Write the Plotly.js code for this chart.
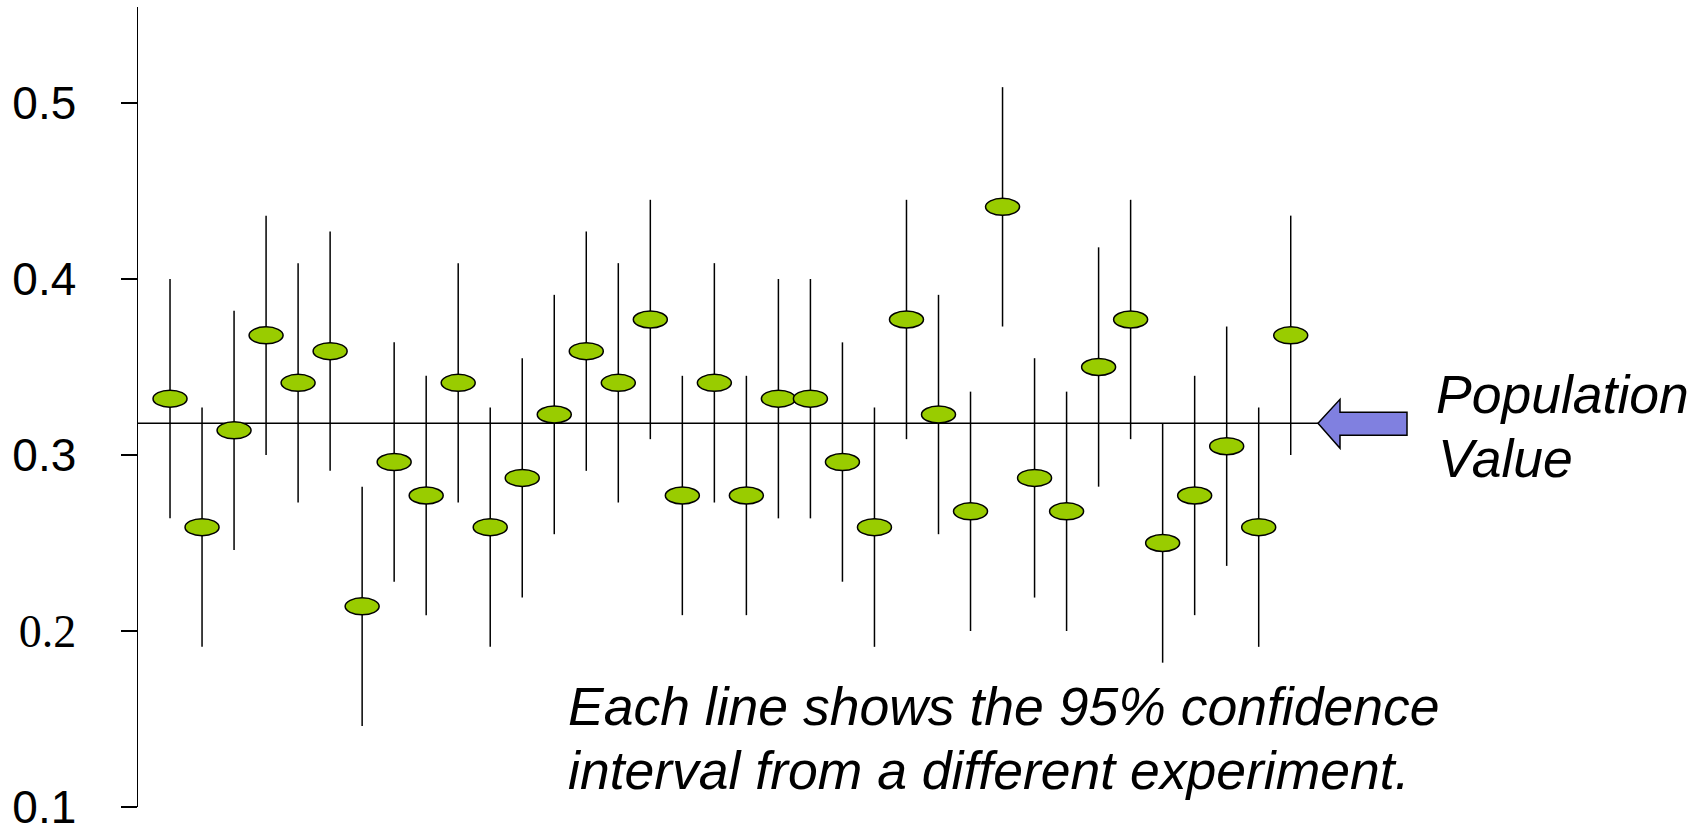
<!DOCTYPE html>
<html>
<head>
<meta charset="utf-8">
<script src="https://cdn.plot.ly/plotly-3.0.1.min.js"></script>
<style>
  html, body { margin: 0; padding: 0; background: #fff; }
  #chart { width: 1704px; height: 837px; }
</style>
</head>
<body>
<div id="chart"></div>
<script>
// ---- Data ----
const experiments = [1,2,3,4,5,6,7,8,9,10,11,12,13,14,15,16,17,18,19,20,21,22,23,24,25,26,27,28,29,30,31,32,33,34,35,36];
const estimates = [0.332, 0.259, 0.314, 0.368, 0.341, 0.359, 0.214, 0.296, 0.277, 0.341, 0.259, 0.287,
                   0.323, 0.359, 0.341, 0.377, 0.277, 0.341, 0.277, 0.332, 0.332, 0.296, 0.259, 0.377,
                   0.323, 0.268, 0.441, 0.287, 0.268, 0.350, 0.377, 0.250, 0.277, 0.305, 0.259, 0.368];
const ciHalfWidth = 0.068;
const populationValue = 0.318;
const tickValues = [0.1, 0.2, 0.3, 0.4, 0.5];
const tickLabels = ['0.1', '<span style="font-family:Liberation Serif">0.2</span>', '0.3', '0.4', '0.5'];
const noteLines = ['Each line shows the 95% confidence', 'interval from a different experiment.'];
const popLabelLines = ['Population', 'Value'];

// ---- Layout helpers (pixel geometry of the page) ----
const W = 1704, H = 837;
const M = {l: 138, r: 0, t: 7, b: 30};
const plotH = H - M.t - M.b;
const paperY = py => (H - M.b - py) / plotH;
const paperX = px => (px - M.l) / (W - M.l - M.r);

const sansFont = 'Liberation Sans, Arial, sans-serif';

const trace = {
  type: 'scatter',
  mode: 'markers',
  x: experiments,
  y: estimates,
  marker: {size: 1, opacity: 0},
  error_y: {type: 'constant', value: ciHalfWidth, width: 0, thickness: 1.5, color: '#000'},
  hoverinfo: 'skip',
  showlegend: false
};

const shapes = [];
// population value reference line
shapes.push({
  type: 'line', layer: 'above', xref: 'paper', yref: 'y',
  x0: 0, x1: paperX(1318), y0: populationValue, y1: populationValue,
  line: {color: '#000', width: 1.5}
});
// block arrow pointing at the line
shapes.push({
  type: 'path', layer: 'above', xref: 'paper', yref: 'y',
  xsizemode: 'pixel', ysizemode: 'pixel',
  xanchor: paperX(1318), yanchor: populationValue,
  path: 'M0,0 L22,24 L22,11 L89,11 L89,-12 L22,-12 L22,-25 Z',
  fillcolor: '#8080E0',
  line: {color: '#000', width: 1.5}
});
// ellipse markers at each estimate
experiments.forEach((xv, i) => {
  shapes.push({
    type: 'circle', layer: 'above', xref: 'x', yref: 'y',
    xsizemode: 'pixel', ysizemode: 'pixel',
    xanchor: xv, yanchor: estimates[i],
    x0: -17, x1: 17, y0: -8.5, y1: 8.5,
    fillcolor: '#99CC00',
    line: {color: '#000', width: 1.5}
  });
});

const textFont = {family: sansFont, size: 53.5, color: '#000', style: 'italic'};
const annotations = [
  {text: popLabelLines[0], x: paperX(1434), y: paperY(394)},
  {text: popLabelLines[1], x: paperX(1436), y: paperY(458)},
  {text: noteLines[0], x: paperX(566), y: paperY(706)},
  {text: noteLines[1], x: paperX(566), y: paperY(770)}
].map(a => Object.assign({
  xref: 'paper', yref: 'paper', xanchor: 'left', yanchor: 'middle',
  showarrow: false, font: textFont
}, a));

const layout = {
  width: W, height: H,
  margin: M,
  paper_bgcolor: '#fff', plot_bgcolor: '#fff',
  showlegend: false,
  xaxis: {
    visible: false,
    range: [0, (W - M.l - M.r) / 32.02],
    fixedrange: true
  },
  yaxis: {
    range: [0.1, 0.1 + plotH / 1760],
    showgrid: false, zeroline: false,
    showline: true, linecolor: '#000', linewidth: 1.5,
    ticks: 'outside', ticklen: 16, tickwidth: 1.5, tickcolor: '#000',
    tickvals: tickValues, ticktext: tickLabels,
    ticklabelstandoff: 35,
    tickfont: {family: sansFont, size: 46, color: '#000'},
    fixedrange: true
  },
  shapes: shapes,
  annotations: annotations
};

Plotly.newPlot('chart', [trace], layout, {displayModeBar: false, staticPlot: true});
</script>
</body>
</html>
